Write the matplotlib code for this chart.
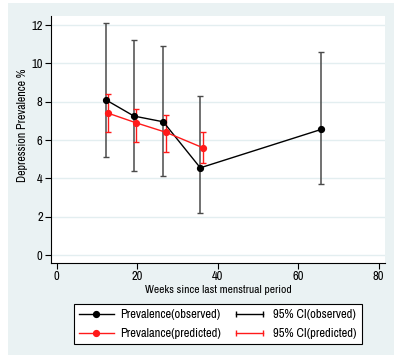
import matplotlib
matplotlib.use("Agg")
import matplotlib.pyplot as plt
from matplotlib.lines import Line2D
from matplotlib.patches import Rectangle
from matplotlib.legend_handler import HandlerLine2D

# observed prevalence and 95% CI
obs_weeks = [12.2, 19.2, 26.5, 35.7, 65.7]
obs_prev = [8.1, 7.25, 6.95, 4.55, 6.55]
obs_lo = [5.1, 4.4, 4.1, 2.2, 3.7]
obs_hi = [12.1, 11.2, 10.9, 8.3, 10.6]

# predicted prevalence and 95% CI
pred_weeks = [12.8, 19.7, 27.2, 36.3]
pred_prev = [7.4, 6.9, 6.4, 5.6]
pred_lo = [6.4, 5.9, 5.4, 4.8]
pred_hi = [8.4, 7.6, 7.3, 6.4]

x_ticks = [0, 20, 40, 60, 80]
y_ticks = [0, 2, 4, 6, 8, 10, 12]

plt.rcParams["font.family"] = ["Archivo Narrow", "Liberation Sans", "DejaVu Sans"]

fig = plt.figure(figsize=(3.94, 3.57), dpi=100, facecolor="white")
fig.patches.append(Rectangle((8 / 394, 2 / 357), 1 - 8 / 394, 352 / 357,
                             transform=fig.transFigure, facecolor="#EAF2F3",
                             edgecolor="none", zorder=-10))

ax = fig.add_axes([51 / 394, 1 - 262.7 / 357, (385 - 51) / 394, (262.7 - 16) / 357])
ax.set_facecolor("white")

obs_c = "black"
pred_c = "#FF1A1A"

# CI bars
ax.errorbar(obs_weeks, obs_prev,
            yerr=[[p - l for p, l in zip(obs_prev, obs_lo)], [h - p for p, h in zip(obs_prev, obs_hi)]],
            fmt="none", ecolor="#4a4a4a", elinewidth=1.1, capsize=2.5, capthick=1.0, zorder=2)
ax.errorbar(pred_weeks, pred_prev,
            yerr=[[p - l for p, l in zip(pred_prev, pred_lo)], [h - p for p, h in zip(pred_prev, pred_hi)]],
            fmt="none", ecolor=pred_c, elinewidth=1.0, capsize=2.5, capthick=1.0, zorder=3)

ax.plot(obs_weeks, obs_prev, color=obs_c, lw=1.0, marker="o", ms=4.2, zorder=4)
ax.plot(pred_weeks, pred_prev, color=pred_c, lw=1.0, marker="o", ms=4.2, zorder=5)

ax.set_xlim(-1.4, 81.6)
ax.set_ylim(-0.4, 12.47)
ax.set_xticks(x_ticks)
ax.set_yticks(y_ticks)
ax.tick_params(axis="both", direction="out", length=4, width=0.8, labelsize=9, pad=2)
ax.grid(axis="y", color="#E3EEF0", lw=1.0)
ax.set_axisbelow(True)
for s in ["top", "right"]:
    ax.spines[s].set_visible(False)
for s in ["left", "bottom"]:
    ax.spines[s].set_linewidth(0.8)

ax.set_xlabel("Weeks since last menstrual period", fontsize=8.3, labelpad=2)
ax.set_ylabel("Depression Prevalence %", fontsize=8.6, labelpad=2.5, y=0.555)

# legend
h_obs = Line2D([], [], color=obs_c, lw=1.0, marker="o", ms=4.2)
h_pred = Line2D([], [], color=pred_c, lw=1.0, marker="o", ms=4.2)
h_ci_obs = Line2D([], [], color=obs_c, lw=1.0, marker="|", ms=4)
h_ci_pred = Line2D([], [], color=pred_c, lw=1.0, marker="|", ms=4)
leg = fig.legend([h_obs, h_pred, h_ci_obs, h_ci_pred],
                 ["Prevalence(observed)", "Prevalance(predicted)",
                  "95% CI(observed)", "95% CI(predicted)"],
                 ncol=2, loc="upper left", numpoints=2,
                 bbox_to_anchor=(73.5 / 394, 1 - 304 / 357),
                 fontsize=9, frameon=True, fancybox=False,
                 edgecolor="black", facecolor="white", framealpha=1,
                 handlelength=2.8, handletextpad=0.5, columnspacing=0.9,
                 labelspacing=0.65, borderpad=0.4, borderaxespad=0,
                 handler_map={h_obs: HandlerLine2D(numpoints=1),
                              h_pred: HandlerLine2D(numpoints=1)})
leg.get_frame().set_linewidth(0.8)

fig.savefig("out.png", dpi=100)
